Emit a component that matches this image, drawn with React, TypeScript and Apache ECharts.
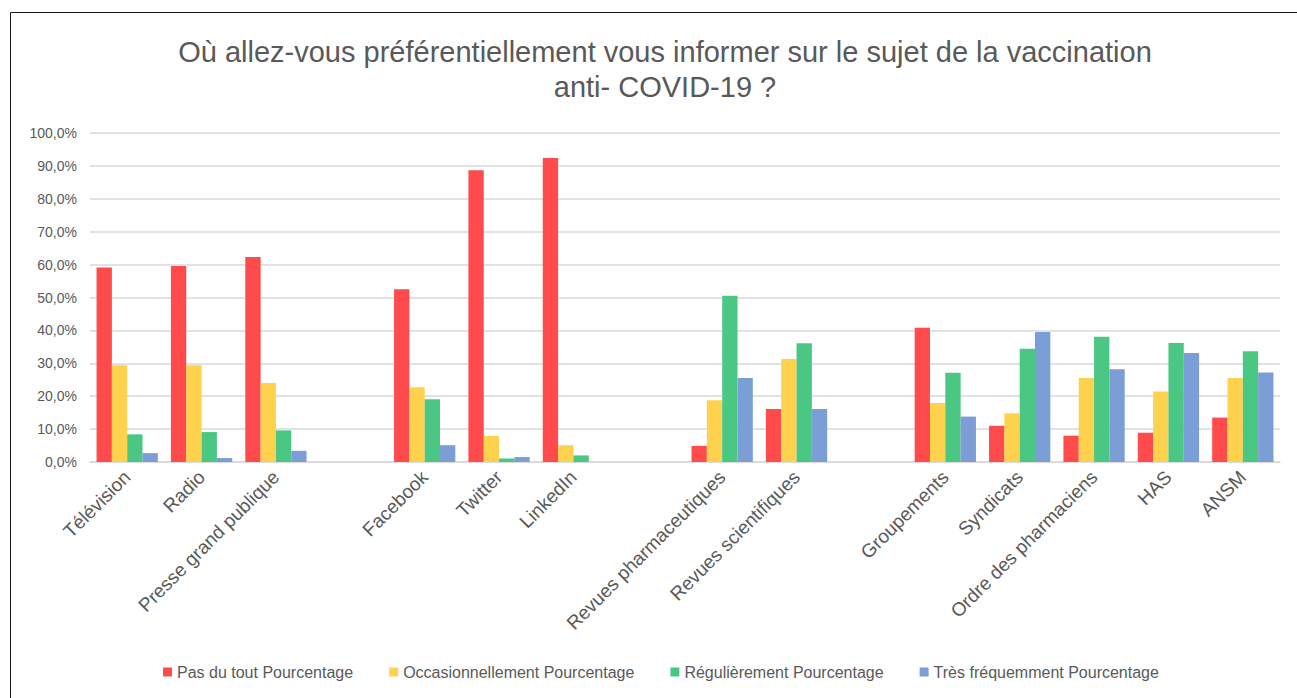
import React, { useEffect, useRef } from "react";
import * as echarts from "echarts";

const categories = [
  "Télévision", "Radio", "Presse grand publique", "",
  "Facebook", "Twitter", "LinkedIn", "",
  "Revues pharmaceutiques", "Revues scientifiques", "",
  "Groupements", "Syndicats", "Ordre des pharmaciens", "HAS", "ANSM",
];

const seriesNames = [
  "Pas du tout Pourcentage",
  "Occasionnellement Pourcentage",
  "Régulièrement Pourcentage",
  "Très fréquemment Pourcentage",
];

const pasDuTout = [59.1, 59.6, 62.3, null, 52.5, 88.7, 92.4, null, 4.9, 16.1, null, 40.8, 11.0, 8.0, 8.9, 13.5];
const occasionnellement = [29.4, 29.4, 24.0, null, 22.7, 7.9, 5.1, null, 18.8, 31.3, null, 17.9, 14.8, 25.5, 21.4, 25.5];
const regulierement = [8.4, 9.1, 9.6, null, 19.1, 1.1, 2.0, null, 50.5, 36.1, null, 27.1, 34.4, 38.1, 36.2, 33.7];
const tresFrequemment = [2.7, 1.2, 3.4, null, 5.1, 1.5, 0, null, 25.5, 16.1, null, 13.8, 39.5, 28.2, 33.1, 27.2];

const colors = ["#FF4B4B", "#FFD24D", "#4BC784", "#7B9ED6"];

const titleText =
  "Où allez-vous préférentiellement vous informer sur le sujet de la vaccination\nanti- COVID-19 ?";

export default function App() {
  const ref = useRef<HTMLDivElement>(null);
  useEffect(() => {
    if (!ref.current) return;
    const chart = echarts.init(ref.current, undefined, { renderer: "svg" });
    const font = "'Liberation Sans', Arial, sans-serif";
    const allData = [pasDuTout, occasionnellement, regulierement, tresFrequemment];
    chart.setOption({
      animation: false,
      backgroundColor: "#ffffff",
      textStyle: { fontFamily: font },
      graphic: [
        {
          type: "rect",
          shape: { x: 10.5, y: 12.5, width: 1400, height: 800 },
          style: { fill: "none", stroke: "#1a1a1a", lineWidth: 1 },
          silent: true,
        },
      ],
      title: {
        text: titleText,
        left: 660,
        top: 29,
        textAlign: "center",
        textStyle: {
          fontFamily: font,
          fontSize: 29,
          fontWeight: "normal",
          color: "#595959",
          lineHeight: 35,
        },
      },
      legend: {
        left: 158,
        top: 659,
        icon: "rect",
        itemWidth: 9,
        itemHeight: 9,
        itemGap: 36,
        textStyle: { fontFamily: font, fontSize: 16, color: "#595959" },
        data: seriesNames,
      },
      grid: { left: 90, right: 17, top: 133, bottom: 236, containLabel: false },
      xAxis: {
        type: "category",
        data: categories,
        axisLine: { lineStyle: { color: "#d9d9d9", width: 1.5 } },
        axisTick: { show: false },
        axisLabel: {
          interval: 0,
          rotate: 45,
          margin: 12,
          fontFamily: font,
          fontSize: 19,
          color: "#595959",
        },
      },
      yAxis: {
        type: "value",
        min: 0,
        max: 100,
        interval: 10,
        axisLine: { show: false },
        axisTick: { show: false },
        splitLine: { lineStyle: { color: "#d9d9d9", width: 1.5 } },
        axisLabel: {
          margin: 13,
          fontFamily: font,
          fontSize: 14,
          color: "#595959",
          formatter: (v: number) => v.toFixed(1).replace(".", ",") + "%",
        },
      },
      series: seriesNames.map((name, i) => ({
        name,
        type: "bar",
        data: allData[i],
        barGap: "0%",
        barCategoryGap: "17.6%",
        itemStyle: { color: colors[i] },
      })),
    });
    return () => chart.dispose();
  }, []);
  return (
    <div
      ref={ref}
      style={{ position: "fixed", left: 0, top: 0, width: 1297, height: 698 }}
    />
  );
}
